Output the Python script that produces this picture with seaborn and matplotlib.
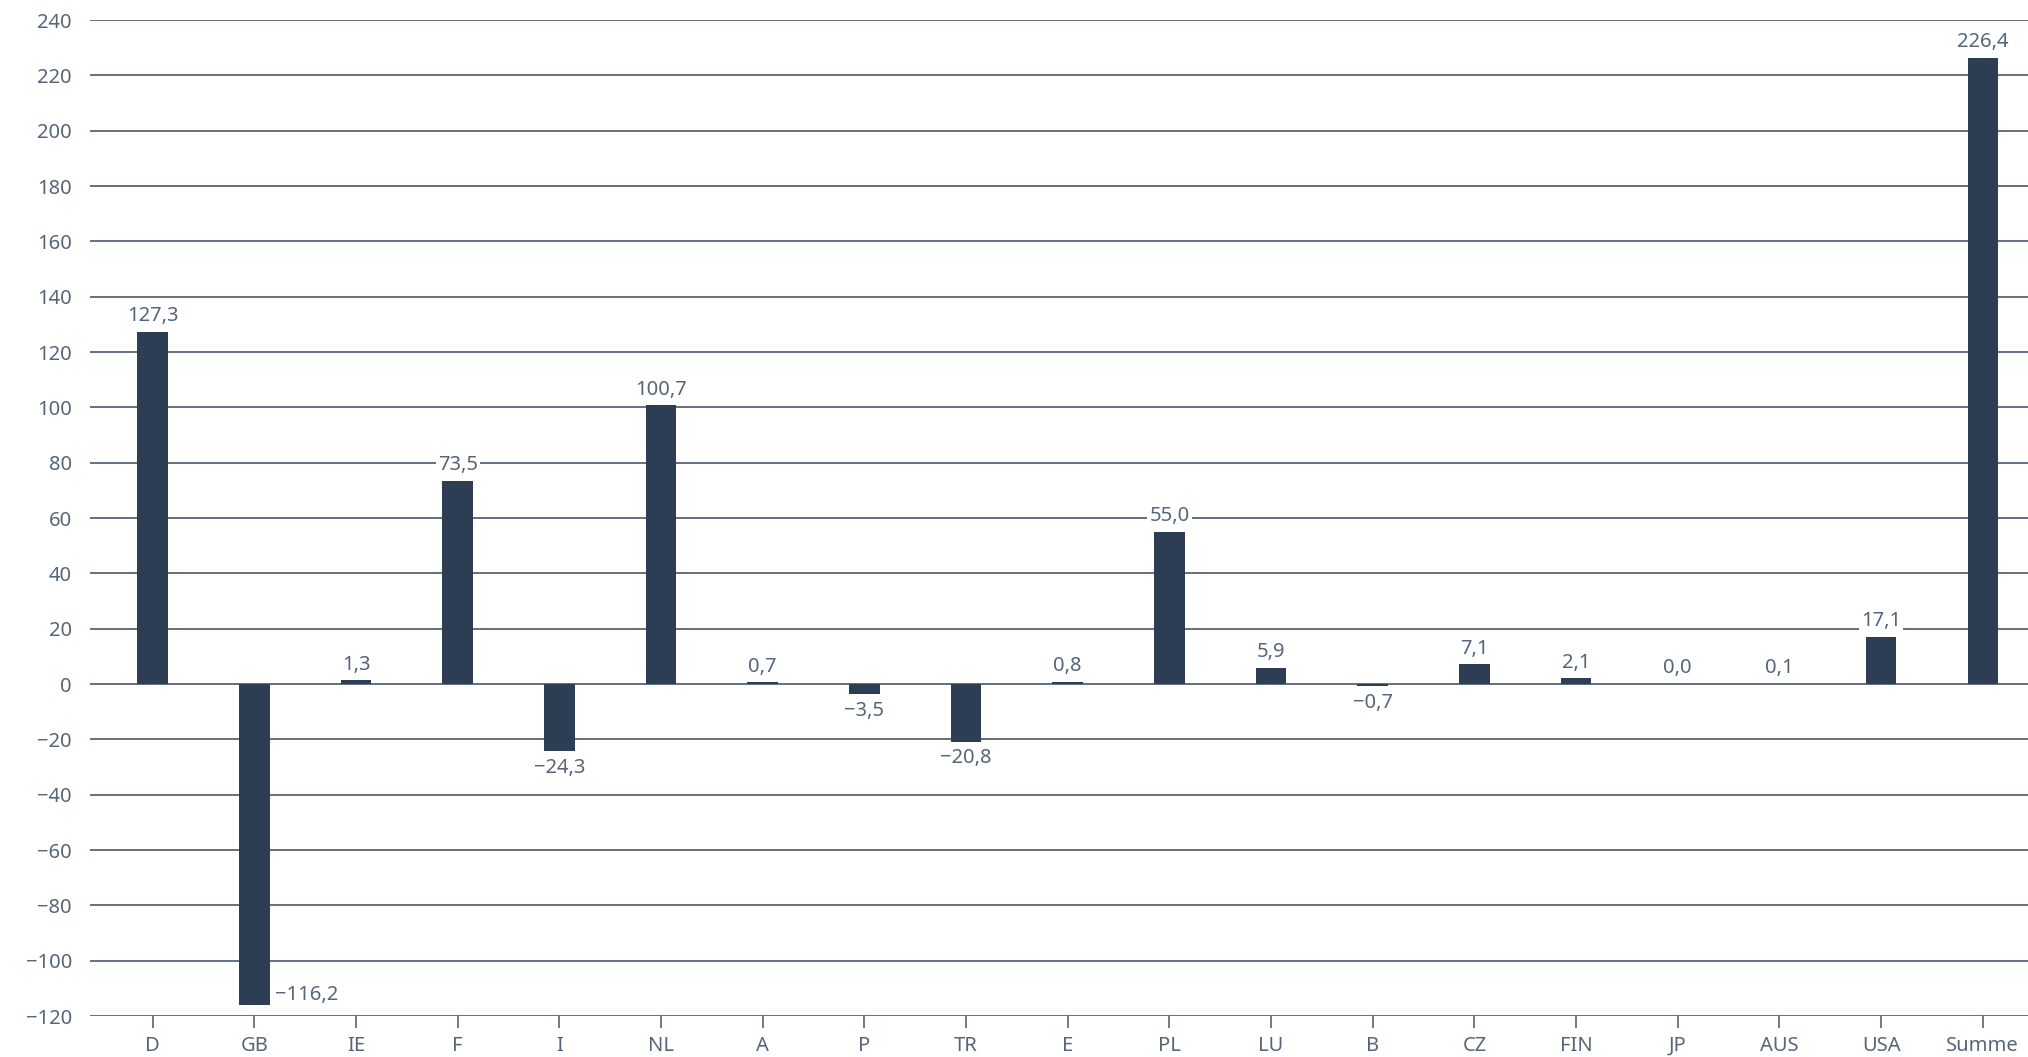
import matplotlib
matplotlib.use('Agg')
import matplotlib.pyplot as plt
import seaborn as sns
import pandas as pd

laender = ['D', 'GB', 'IE', 'F', 'I', 'NL', 'A', 'P', 'TR', 'E', 'PL', 'LU', 'B',
           'CZ', 'FIN', 'JP', 'AUS', 'USA', 'Summe']
werte = [127.3, -116.2, 1.3, 73.5, -24.3, 100.7, 0.7, -3.5, -20.8, 0.8, 55.0, 5.9, -0.7,
         7.1, 2.1, 0.0, 0.1, 17.1, 226.4]
y_ticks = list(range(-120, 241, 20))

BAR = '#2c3d54'
GRID = '#56657a'
TEXT = '#56657a'

sns.set_theme(style='white')
plt.rcParams['font.family'] = ['Noto Sans', 'DejaVu Sans']

df = pd.DataFrame({'Land': laender, 'Wert': werte})

fig = plt.figure(figsize=(20.28, 10.57), dpi=100)
ax = fig.add_axes([90 / 2028, 41 / 1057, 1 - 90 / 2028, 996 / 1057])

sns.barplot(data=df, x='Land', y='Wert', color=BAR, saturation=1, width=0.3,
            linewidth=0, ax=ax, zorder=3)

ax.set_ylim(-120, 240)
ax.set_xlim(-0.617, 18.445)
ax.set_yticks(y_ticks)
ax.set_yticklabels([str(t).replace('-', '\u2212') for t in y_ticks])
ax.grid(axis='y', color=GRID, linewidth=1.3, zorder=0)
ax.set_axisbelow(True)
for s in ax.spines.values():
    s.set_visible(False)
ax.tick_params(axis='y', length=0, pad=13, labelsize=14.5, labelcolor=TEXT)
ax.tick_params(axis='x', length=8.5, width=1.2, color=GRID, pad=6, labelsize=14.5,
               labelcolor=TEXT, bottom=True)
ax.set_xlabel('')
ax.set_ylabel('')

box = dict(facecolor='white', edgecolor='none', pad=1.5)
for i, v in enumerate(werte):
    txt = f'{abs(v):.1f}'.replace('.', ',')
    if v < 0:
        txt = '\u2212' + txt
    if v < -100:
        ax.annotate(txt, (i + 0.15, v), xytext=(4, 0), textcoords='offset points',
                    ha='left', va='bottom', fontsize=14.5, color=TEXT, bbox=box, zorder=4)
    elif v < 0:
        ax.annotate(txt, (i, v), xytext=(0, -5), textcoords='offset points',
                    ha='center', va='top', fontsize=14.5, color=TEXT, bbox=box, zorder=4)
    else:
        ax.annotate(txt, (i, v), xytext=(0, 4), textcoords='offset points',
                    ha='center', va='bottom', fontsize=14.5, color=TEXT, bbox=box, zorder=4)

fig.savefig('out.png', dpi=100, facecolor='white')
